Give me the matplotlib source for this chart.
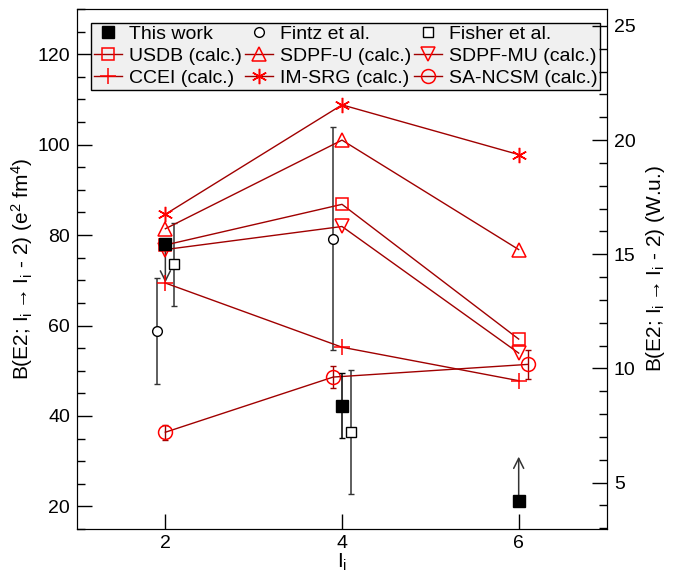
import matplotlib
matplotlib.use("Agg")
import matplotlib.pyplot as plt
from matplotlib.ticker import MultipleLocator

plt.rcParams['font.family'] = ['Liberation Sans', 'DejaVu Sans']
plt.rcParams['mathtext.default'] = 'regular'

# ---- data (B(E2) in e^2 fm^4) ----
this_x = [2, 4, 6]
this_y = [78.1, 42.3, 21.3]
this_err = [0, 7.1, 0]
this_limit_to = [69.5, None, 31.0]   # arrow ends (limits)

fintz_x = [1.9, 3.9]
fintz_y = [58.8, 79.2]
fintz_err = [11.7, 24.6]

fisher_x = [2.1, 4.1]
fisher_y = [73.5, 36.5]
fisher_err = [9.2, 13.7]

calc_x = [2, 4, 6]
usdb = [77.8, 86.8, 57.0]
sdpfu = [81.4, 101.0, 76.8]
sdpfmu = [76.8, 81.9, 53.9]
ccei = [69.4, 55.2, 47.8]
imsrg = [84.6, 108.8, 97.8]

sancsm_x = [2, 3.9, 6.1]
sancsm_y = [36.4, 48.6, 51.4]
sancsm_err = [1.7, 2.4, 3.2]

wu = 5.05  # e^2 fm^4 per W.u.
ylim = (15, 130)

fig = plt.figure(figsize=(6.78, 5.76), dpi=100)
ax = fig.add_axes([0.1136, 0.0816, 0.7817, 0.9028])

lc = '#a00000'
mc = 'red'
ek = dict(ls='', ecolor='#333333', elinewidth=1.1, capsize=2.5, capthick=1)

h_this, = ax.plot(this_x, this_y, 's', color='black', ms=8.5, zorder=6)
ax.errorbar([this_x[1]], [this_y[1]], yerr=[this_err[1]], fmt='none', ecolor='black',
            elinewidth=1.1, capsize=2.5, capthick=1, zorder=5)
for x, y, t in zip(this_x, this_y, this_limit_to):
    if t is not None:
        ax.annotate('', xy=(x, t), xytext=(x, y),
                    arrowprops=dict(arrowstyle='->', color='#333333', lw=1.1,
                                    mutation_scale=18, shrinkA=0, shrinkB=0), zorder=4)

ax.errorbar(fintz_x, fintz_y, yerr=fintz_err, fmt='none', **ek, zorder=3)
h_fintz, = ax.plot(fintz_x, fintz_y, 'o', mfc='white', mec='black', mew=1, ms=7, zorder=6)
ax.errorbar(fisher_x, fisher_y, yerr=fisher_err, fmt='none', **ek, zorder=3)
h_fisher, = ax.plot(fisher_x, fisher_y, 's', mfc='white', mec='black', mew=1, ms=7, zorder=6)

def calc(xs, ys, marker, ms):
    h, = ax.plot(xs, ys, '-', color=lc, lw=1, marker=marker, mfc='none', mec=mc,
                 mew=1.1, ms=ms, zorder=4)
    return h

h_usdb = calc(calc_x, usdb, 's', 9)
h_sdpfu = calc(calc_x, sdpfu, '^', 10)
h_sdpfmu = calc(calc_x, sdpfmu, 'v', 10)
h_ccei = calc(calc_x, ccei, '+', 11)
h_imsrg = calc(calc_x, imsrg, (6, 2, 0), 11)
ax.errorbar(sancsm_x, sancsm_y, yerr=sancsm_err, fmt='none', ecolor=lc, elinewidth=1,
            capsize=2.5, capthick=1, zorder=3)
h_sancsm = calc(sancsm_x, sancsm_y, 'o', 10)

ax.set_xlim(1, 7)
ax.set_ylim(*ylim)
ax.xaxis.set_major_locator(MultipleLocator(2))
ax.yaxis.set_major_locator(MultipleLocator(20))
ax.yaxis.set_minor_locator(MultipleLocator(5))
ax.tick_params(axis='both', which='both', direction='in', labelsize=14, top=False, right=False)
ax.tick_params(axis='both', which='major', length=11, width=1)
ax.tick_params(axis='both', which='minor', length=6, width=1)
ax.tick_params(axis='x', pad=4)
ax.tick_params(axis='y', pad=5)
ax.set_xlabel('I$_i$', fontsize=15, labelpad=0)
ax.set_ylabel('B(E2; I$_i$$\\rightarrow$I$_i$ - 2) (e$^2$ fm$^4$)', fontsize=15, labelpad=2)

ax2 = ax.twinx()
ax2.set_ylim(ylim[0] / wu, ylim[1] / wu)
ax2.yaxis.set_major_locator(MultipleLocator(5))
ax2.yaxis.set_minor_locator(MultipleLocator(1))
ax2.tick_params(axis='y', which='both', direction='in', labelsize=14, pad=5)
ax2.tick_params(axis='y', which='major', length=11, width=1)
ax2.tick_params(axis='y', which='minor', length=6, width=1)
ax2.set_ylabel('B(E2; I$_i$$\\rightarrow$I$_i$ - 2) (W.u.)', fontsize=15, labelpad=6)

handles = [h_this, h_usdb, h_ccei, h_fintz, h_sdpfu, h_imsrg, h_fisher, h_sdpfmu, h_sancsm]
labels = ['This work', 'USDB (calc.)', 'CCEI (calc.)', 'Fintz et al.', 'SDPF-U (calc.)',
          'IM-SRG (calc.)', 'Fisher et al.', 'SDPF-MU (calc.)', 'SA-NCSM (calc.)']
leg = ax.legend(handles, labels, ncol=3, loc='upper left', bbox_to_anchor=(0.026, 0.974),
                fontsize=14, frameon=True, fancybox=False, edgecolor='black',
                facecolor='#f0f0f0', framealpha=1, handlelength=1.45, handletextpad=0.35,
                columnspacing=0.15, labelspacing=0.22, borderpad=0.15, borderaxespad=0)
leg.get_frame().set_linewidth(1)
leg.set_zorder(10)

fig.savefig('out.png', dpi=100)
